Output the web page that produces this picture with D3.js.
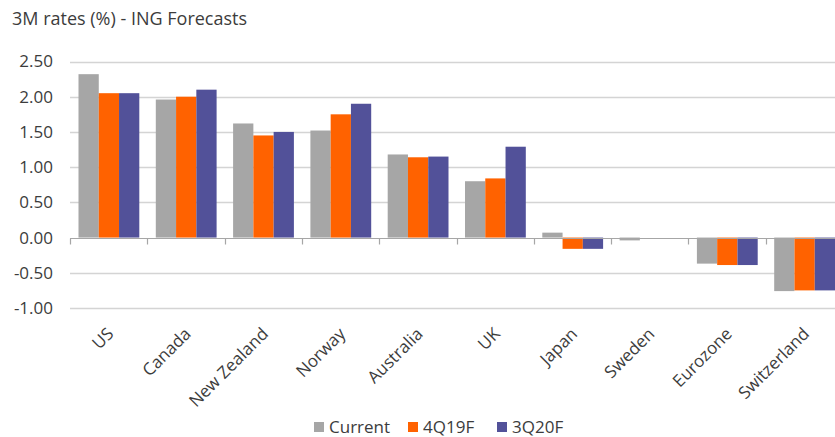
<!DOCTYPE html>
<html>
<head>
<meta charset="utf-8">
<script src="https://cdn.jsdelivr.net/npm/d3@7"></script>
<style>
  body { margin: 0; background: #fff; }
  text { font-family: "Open Sans", sans-serif; fill: #3c3c3c; }
</style>
</head>
<body>
<script>
// chart data
var countries = ["US", "Canada", "New Zealand", "Norway", "Australia", "UK", "Japan", "Sweden", "Eurozone", "Switzerland"];
var seriesNames = ["Current", "4Q19F", "3Q20F"];
var current = [2.32, 1.96, 1.62, 1.52, 1.18, 0.80, 0.07, -0.04, -0.37, -0.76];
var q4_19 = [2.05, 2.00, 1.45, 1.75, 1.14, 0.84, -0.16, 0.00, -0.39, -0.75];
var q3_20 = [2.05, 2.10, 1.50, 1.90, 1.15, 1.29, -0.16, 0.00, -0.39, -0.75];
var yTicks = [2.5, 2.0, 1.5, 1.0, 0.5, 0.0, -0.5, -1.0];
var colors = ["#a6a6a6", "#ff6200", "#525199"];

var W = 835, H = 437;
var allSeries = [current, q4_19, q3_20];

var svg = d3.select("body").append("svg")
    .attr("width", W)
    .attr("height", H);

// title
svg.append("text")
    .attr("x", 12)
    .attr("y", 25)
    .attr("font-size", "18px")
    .text("3M rates (%) - ING Forecasts");

var x = d3.scaleBand()
    .domain(countries)
    .range([70, 843])
    .padding(0);

var x1 = d3.scaleBand()
    .domain(seriesNames)
    .range([8.5, x.bandwidth() - 8]);

var y = d3.scaleLinear()
    .domain([-1, 2.5])
    .range([308, 61.5]);

// grid lines
svg.append("g").selectAll("line")
    .data(yTicks.filter(function(d) { return d != 0; }))
    .enter().append("line")
    .attr("x1", 70).attr("x2", W)
    .attr("y1", function(d) { return Math.round(y(d)) + 0.5; })
    .attr("y2", function(d) { return Math.round(y(d)) + 0.5; })
    .attr("stroke", "#d4d4d4")
    .attr("stroke-width", 1.5);

// y labels (plain hyphen for negatives, like the original)
var fmt = d3.format(".2f");
var yAxis = d3.axisLeft(y)
    .tickValues(yTicks)
    .tickSize(0)
    .tickPadding(0)
    .tickFormat(function(d) { return fmt(d).replace("\u2212", "-"); });
var gy = svg.append("g").attr("transform", "translate(53,0)").call(yAxis);
gy.select(".domain").remove();
gy.selectAll("text")
    .attr("font-size", "17px")
    .attr("font-family", "Open Sans, sans-serif")
    .attr("fill", "#3c3c3c");

// bars
var groups = svg.append("g").selectAll("g")
    .data(countries)
    .enter().append("g")
    .attr("transform", function(d) { return "translate(" + x(d) + ",0)"; });

groups.selectAll("rect")
    .data(function(d, i) {
        return seriesNames.map(function(s, k) { return { key: s, k: k, value: allSeries[k][i] }; });
    })
    .enter().append("rect")
    .attr("x", function(d) { return x1(d.key); })
    .attr("width", x1.bandwidth())
    .attr("y", function(d) { return y(Math.max(0, d.value)); })
    .attr("height", function(d) { return Math.abs(y(d.value) - y(0)); })
    .attr("fill", function(d) { return colors[d.k]; });

// zero axis with tick marks
var gx = svg.append("g").attr("transform", "translate(0," + (Math.round(y(0)) + 0.5) + ")");
gx.append("line")
    .attr("x1", 70).attr("x2", W)
    .attr("stroke", "#a6a6a6")
    .attr("stroke-width", 1.2);
gx.selectAll(".tk")
    .data(countries)
    .enter().append("line")
    .attr("class", "tk")
    .attr("x1", function(d) { return Math.round(x(d)) + 0.5; })
    .attr("x2", function(d) { return Math.round(x(d)) + 0.5; })
    .attr("y1", 0).attr("y2", 6)
    .attr("stroke", "#a6a6a6")
    .attr("stroke-width", 1.2);

// category labels
svg.append("g").selectAll("text")
    .data(countries)
    .enter().append("text")
    .attr("transform", function(d) {
        return "translate(" + (x(d) + x.bandwidth() / 2 + 6) + ",335) rotate(-45)";
    })
    .attr("text-anchor", "end")
    .attr("font-size", "17px")
    .text(function(d) { return d; });

// legend
var legendX = [314, 408, 497];
var leg = svg.append("g").selectAll("g")
    .data(seriesNames)
    .enter().append("g")
    .attr("transform", function(d, i) { return "translate(" + legendX[i] + ",422)"; });
leg.append("rect")
    .attr("width", 10).attr("height", 10)
    .attr("fill", function(d, i) { return colors[i]; });
leg.append("text")
    .attr("x", 15)
    .attr("y", 11)
    .attr("font-size", "17px")
    .text(function(d) { return d; });
</script>
</body>
</html>
